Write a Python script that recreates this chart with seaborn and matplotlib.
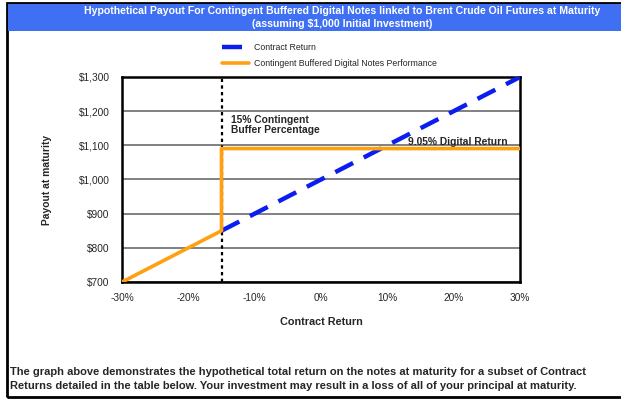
import numpy as np
import pandas as pd
import matplotlib.pyplot as plt
import seaborn as sns

# Values
contract_return = [-15, 30]
contract_payout = [850, 1300]
notes_return = [-30, -15, -15, 30]
notes_payout = [700, 850, 1090.5, 1090.5]
buffer_level = -15
x_ticks = [-30, -20, -10, 0, 10, 20, 30]
y_ticks = [700, 800, 900, 1000, 1100, 1200, 1300]

sns.set_style('white')
plt.rcParams['font.family'] = ['Liberation Sans', 'DejaVu Sans']

W, H = 621, 399
fig = plt.figure(figsize=(W / 100, H / 100), dpi=100)

# outer frame and blue title band
fig.add_artist(plt.Rectangle((7 / W, 1 - 397 / H), 1.0, 394 / H, transform=fig.transFigure,
                             fill=False, edgecolor='black', linewidth=2))
fig.add_artist(plt.Rectangle((8 / W, 1 - 31 / H), 1.0, 27 / H, transform=fig.transFigure,
                             facecolor='#3f6ff2', edgecolor='none'))
fig.text(342 / W, 1 - 11 / H, 'Hypothetical Payout For Contingent Buffered Digital Notes linked to Brent Crude Oil Futures at Maturity',
         ha='center', va='center', color='white', fontsize=7.6, fontweight='bold')
fig.text(342 / W, 1 - 24 / H, '(assuming $1,000 Initial Investment)',
         ha='center', va='center', color='white', fontsize=7.6, fontweight='bold')

ax = fig.add_axes([122 / W, 1 - 282 / H, 398 / W, 205 / H])

df_c = pd.DataFrame({'ret': contract_return, 'pay': contract_payout})
df_n = pd.DataFrame({'ret': notes_return, 'pay': notes_payout})

ax.axvline(buffer_level, color='black', linestyle=(0, (1.5, 1.5)), linewidth=1.6, zorder=3)
sns.lineplot(data=df_c, x='ret', y='pay', ax=ax, color='#0a1ef0', linewidth=3.2,
             linestyle=(0, (4.5, 2.7)), label='Contract Return', zorder=4)
sns.lineplot(data=df_n, x='ret', y='pay', ax=ax, color='#ffa010', linewidth=2.6,
             sort=False, estimator=None,
             label='Contingent Buffered Digital Notes Performance', zorder=5)

ax.set_xlim(-30, 30)
ax.set_ylim(700, 1300)
ax.set_xticks(x_ticks)
ax.set_xticklabels([f'{t}%' for t in x_ticks])
ax.set_yticks(y_ticks)
ax.set_yticklabels([f'${t:,}' for t in y_ticks])
ax.tick_params(axis='x', labelsize=7.3, length=0, pad=8)
ax.tick_params(axis='y', labelsize=7.3, length=0, pad=9)
ax.yaxis.grid(True, color='#808080', linewidth=1.4)
ax.set_axisbelow(True)
for s in ax.spines.values():
    s.set_color('black')
    s.set_linewidth(1.8)

ax.set_xlabel('Contract Return', fontsize=7.8, fontweight='bold', labelpad=10)
ax.set_ylabel('Payout at maturity', fontsize=7.4, fontweight='bold', labelpad=19)

ax.text(-13.6, 1190, '15% Contingent\nBuffer Percentage', fontsize=7.4, fontweight='bold',
        va='top', ha='left', linespacing=1.05)
ax.text(13.1, 1094, '9.05% Digital Return', fontsize=7.4, fontweight='bold',
        va='bottom', ha='left')

ax.legend(loc='lower left', bbox_to_anchor=(222 / W, 1 - 68 / H), bbox_transform=fig.transFigure,
          frameon=False, fontsize=6.3, handlelength=3.1, labelspacing=0.85, borderpad=0,
          handletextpad=0.5, borderaxespad=0)

fig.text(10 / W, 1 - 372 / H,
         'The graph above demonstrates the hypothetical total return on the notes at maturity for a subset of Contract',
         fontsize=8.0, fontweight='bold', va='center', ha='left')
fig.text(10 / W, 1 - 386 / H,
         'Returns detailed in the table below. Your investment may result in a loss of all of your principal at maturity.',
         fontsize=8.0, fontweight='bold', va='center', ha='left')

fig.savefig('out.png', dpi=100)
